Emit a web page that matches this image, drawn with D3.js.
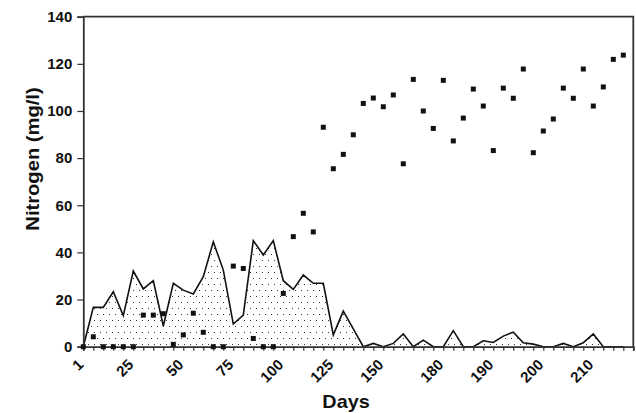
<!DOCTYPE html>
<html>
<head>
<meta charset="utf-8">
<script src="https://cdn.jsdelivr.net/npm/d3@7"></script>
<style>
  body { margin: 0; background: #fff; }
  text { font-family: "Liberation Sans", Arial, sans-serif; font-weight: bold; fill: #111; }
</style>
</head>
<body>
<div class="canvas"></div>
<script>
// sampling days
const days = [1, 5, 10, 15, 20, 25, 30, 35, 40, 45,
              50, 55, 60, 65, 70, 75, 80, 85, 90, 95,
              100, 105, 110, 115, 120, 125, 130, 135, 140, 145,
              150, 155, 160, 165, 170, 175, 180, 182, 184, 186,
              188, 190, 192, 194, 196, 198, 200, 202, 204, 206,
              208, 210, 212, 214, 216];

// days that carry a label on the axis
const tickLabels = [1, 25, 50, 75, 100, 125, 150, 180, 190, 200, 210];

// dotted area series
const areaValues = [0, 16.7, 16.7, 23.3, 13.2, 32.1, 24.5, 28, 8.8, 26.9,
                    24, 22.4, 29.7, 44.5, 32.5, 9.6, 13.4, 45, 38.9, 45,
                    28, 24.3, 30.4, 26.9, 26.9, 5, 15.1, 7.6, 0, 1.4,
                    0, 1.4, 5.4, 0, 2.8, 0, 0, 6.8, 0, 0,
                    2.5, 1.8, 4.5, 6.2, 1.7, 1.1, 0, 0, 1.4, 0,
                    1.7, 5.4, 0, 0, 0];

// square markers series
const pointValues = [0, 4.2, 0, 0, 0, 0, 13.4, 13.4, 14, 1,
                     5, 14.2, 6.1, 0, 0, 34.2, 33.2, 3.5, 0, 0,
                     22.6, 46.7, 56.6, 48.7, 93.1, 75.5, 81.6, 89.9, 103.2, 105.5,
                     101.8, 106.8, 77.6, 113.4, 100, 92.6, 113, 87.3, 97, 109.3,
                     102.1, 83.2, 109.7, 105.4, 117.8, 82.3, 91.5, 96.6, 109.7, 105.4,
                     117.8, 102.1, 110.2, 121.9, 123.7];

const yTicks = [0, 20, 40, 60, 80, 100, 120, 140];

const dims = {width: 636, height: 413};
const margin = {left: 83.3, right: 2.7, top: 16.7, bottom: 66.3};

const svg = d3.select('.canvas')
    .append('svg')
    .attr('width', dims.width)
    .attr('height', dims.height);

const x = d3.scaleLinear()
    .domain([0, days.length])
    .range([margin.left, dims.width - margin.right]);

const y = d3.scaleLinear()
    .domain([0, 140])
    .range([dims.height - margin.bottom, margin.top]);

// dot fill pattern
const pattern = svg.append('defs')
    .append('pattern')
    .attr('id', 'dots')
    .attr('patternUnits', 'userSpaceOnUse')
    .attr('width', 6)
    .attr('height', 12);

pattern.append('rect').attr('width', 6).attr('height', 12).attr('fill', '#fff');
pattern.append('rect').attr('x', 1).attr('y', 2).attr('width', 1).attr('height', 1).attr('fill', '#333');
pattern.append('rect').attr('x', 4).attr('y', 8).attr('width', 1).attr('height', 1).attr('fill', '#333');

const area = d3.area()
    .x((d, i) => x(i))
    .y0(y(0))
    .y1(d => y(d));

svg.append('path')
    .datum(areaValues)
    .attr('fill', 'url(#dots)')
    .attr('d', area);

svg.append('path')
    .datum(areaValues)
    .attr('fill', 'none')
    .attr('stroke', '#111')
    .attr('stroke-width', 1.6)
    .attr('d', d3.line().x((d, i) => x(i)).y(d => y(d)));

// plot border (top and right)
svg.append('path')
    .attr('fill', 'none')
    .attr('stroke', '#333')
    .attr('stroke-width', 1.8)
    .attr('d', `M${x(0)},${y(140)}H${x(days.length)}V${y(0)}`);

// axes
const xAxis = d3.axisBottom(x)
    .tickValues(d3.range(days.length + 1))
    .tickSize(4)
    .tickFormat(() => '');

const gx = svg.append('g')
    .attr('transform', `translate(0, ${y(0)})`)
    .call(xAxis);

gx.select('.domain').attr('stroke', '#333').attr('stroke-width', 1.8);
gx.selectAll('.tick line').attr('stroke', '#333').attr('stroke-width', 1.2);

svg.append('g')
    .selectAll('text')
    .data(tickLabels)
    .enter()
    .append('text')
    .attr('text-anchor', 'end')
    .attr('font-size', 15)
    .attr('transform', d => `translate(${x(days.indexOf(d)) + 1}, ${y(0) + 19}) rotate(-45)`)
    .text(d => d);

const yAxis = d3.axisLeft(y)
    .tickValues(yTicks)
    .tickSize(6)
    .tickPadding(5);

const gy = svg.append('g')
    .attr('transform', `translate(${x(0)}, 0)`)
    .call(yAxis);

gy.select('.domain').attr('stroke', '#333').attr('stroke-width', 1.8);
gy.selectAll('.tick line').attr('stroke', '#333').attr('stroke-width', 1.2);
gy.selectAll('.tick text')
    .attr('font-size', 15)
    .attr('font-family', '"Liberation Sans", Arial, sans-serif')
    .attr('font-weight', 'bold')
    .attr('fill', '#111');

// square markers
svg.append('g')
    .selectAll('rect')
    .data(pointValues)
    .enter()
    .append('rect')
    .attr('x', (d, i) => x(i) - 2.5)
    .attr('y', d => y(d) - 2.5)
    .attr('width', 5)
    .attr('height', 5)
    .attr('fill', '#111');

// axis titles
svg.append('text')
    .attr('transform', 'translate(346, 408) scale(1.1, 1)')
    .attr('text-anchor', 'middle')
    .attr('font-size', 18)
    .text('Days');

svg.append('text')
    .attr('transform', 'translate(39, 159) rotate(-90) scale(1.12, 1)')
    .attr('text-anchor', 'middle')
    .attr('font-size', 18)
    .text('Nitrogen (mg/l)');
</script>
</body>
</html>
